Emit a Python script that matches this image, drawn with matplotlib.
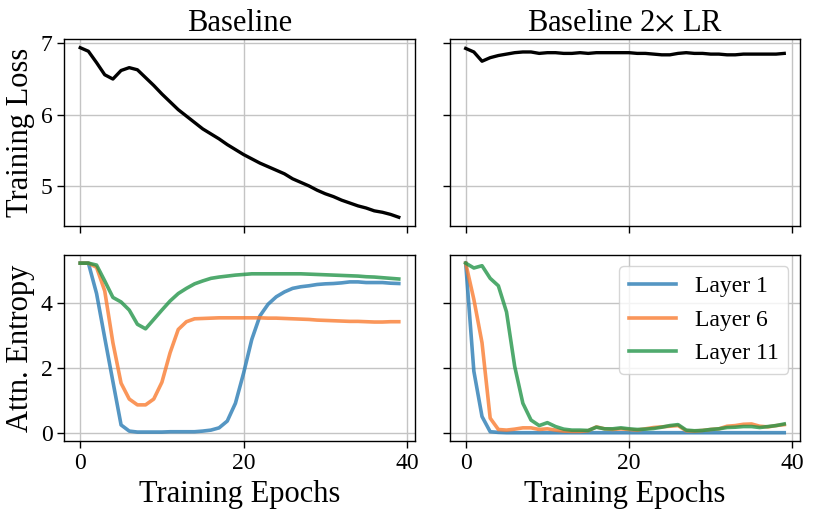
import numpy as np
import matplotlib
matplotlib.use("Agg")
import matplotlib.pyplot as plt

plt.rcParams['font.family'] = ['Liberation Serif', 'DejaVu Serif']
plt.rcParams['mathtext.fontset'] = 'stix'

epochs = list(range(40))

loss_baseline = [6.94, 6.89, 6.73, 6.56, 6.50, 6.62, 6.66, 6.63, 6.52, 6.41,
                 6.29, 6.18, 6.07, 5.98, 5.89, 5.80, 5.73, 5.66, 5.58, 5.51,
                 5.44, 5.38, 5.32, 5.27, 5.22, 5.17, 5.10, 5.05, 5.00, 4.94,
                 4.89, 4.85, 4.80, 4.76, 4.72, 4.69, 4.65, 4.63, 4.60, 4.56]

loss_2xlr = [6.93, 6.88, 6.75, 6.80, 6.83, 6.85, 6.87, 6.88, 6.88, 6.86,
             6.87, 6.87, 6.86, 6.86, 6.87, 6.86, 6.87, 6.87, 6.87, 6.87,
             6.87, 6.86, 6.86, 6.85, 6.84, 6.84, 6.86, 6.87, 6.86, 6.86,
             6.85, 6.85, 6.84, 6.84, 6.85, 6.85, 6.85, 6.85, 6.85, 6.86]

ent_base_l1 = [5.24, 5.24, 4.30, 2.93, 1.58, 0.24, 0.05, 0.02, 0.02, 0.02,
               0.02, 0.03, 0.03, 0.03, 0.03, 0.05, 0.08, 0.15, 0.36, 0.91,
               1.84, 2.88, 3.61, 3.97, 4.20, 4.35, 4.46, 4.51, 4.54, 4.58,
               4.60, 4.61, 4.63, 4.66, 4.66, 4.64, 4.64, 4.64, 4.62, 4.61]
ent_base_l6 = [5.24, 5.24, 5.11, 4.38, 2.78, 1.53, 1.04, 0.86, 0.86, 1.04,
               1.56, 2.47, 3.19, 3.43, 3.52, 3.53, 3.54, 3.55, 3.55, 3.55,
               3.55, 3.55, 3.55, 3.54, 3.54, 3.53, 3.52, 3.51, 3.50, 3.48,
               3.47, 3.46, 3.45, 3.44, 3.44, 3.43, 3.42, 3.42, 3.43, 3.43]
ent_base_l11 = [5.24, 5.24, 5.18, 4.69, 4.18, 4.04, 3.79, 3.35, 3.21, 3.50,
                3.79, 4.07, 4.30, 4.46, 4.60, 4.69, 4.77, 4.81, 4.84, 4.87,
                4.89, 4.91, 4.91, 4.91, 4.91, 4.91, 4.91, 4.91, 4.90, 4.89,
                4.88, 4.87, 4.86, 4.85, 4.84, 4.82, 4.81, 4.79, 4.77, 4.75]

ent_2x_l1 = [5.24, 1.90, 0.50, 0.03, 0.01, 0.00, 0.00, 0.00, 0.00, 0.00,
             0.00, 0.00, 0.00, 0.00, 0.00, 0.00, 0.00, 0.00, 0.00, 0.00,
             0.00, 0.00, 0.00, 0.00, 0.00, 0.00, 0.00, 0.00, 0.00, 0.00,
             0.00, 0.00, 0.00, 0.00, 0.00, 0.00, 0.00, 0.00, 0.00, 0.00]
ent_2x_l6 = [5.24, 4.12, 2.78, 0.45, 0.10, 0.08, 0.11, 0.15, 0.15, 0.10,
             0.12, 0.08, 0.05, 0.04, 0.04, 0.06, 0.18, 0.12, 0.10, 0.12,
             0.10, 0.08, 0.12, 0.16, 0.18, 0.20, 0.22, 0.06, 0.05, 0.07,
             0.10, 0.12, 0.20, 0.22, 0.26, 0.27, 0.20, 0.18, 0.22, 0.25]
ent_2x_l11 = [5.24, 5.09, 5.16, 4.77, 4.54, 3.73, 2.05, 0.91, 0.39, 0.22,
              0.31, 0.19, 0.11, 0.08, 0.08, 0.07, 0.17, 0.12, 0.12, 0.15,
              0.12, 0.10, 0.11, 0.13, 0.17, 0.22, 0.25, 0.08, 0.06, 0.07,
              0.10, 0.12, 0.16, 0.17, 0.19, 0.19, 0.16, 0.19, 0.22, 0.27]

titles = ["Baseline", r"Baseline 2$\times$ LR"]
layer_names = ["Layer 1", "Layer 6", "Layer 11"]
colors = ["#2a7cb4", "#f97c31", "#24954a"]

fig, axes = plt.subplots(2, 2, figsize=(8.14, 5.16), dpi=100, sharex=True, sharey='row')
fig.subplots_adjust(left=0.079, right=0.983, top=0.924, bottom=0.145, wspace=0.1, hspace=0.155)

axes[0, 0].plot(epochs, loss_baseline, color='black', lw=2.4)
axes[0, 1].plot(epochs, loss_2xlr, color='black', lw=2.4)

for ax, series in [(axes[1, 0], [ent_base_l1, ent_base_l6, ent_base_l11]),
                   (axes[1, 1], [ent_2x_l1, ent_2x_l6, ent_2x_l11])]:
    for s, c, name in zip(series, colors, layer_names):
        ax.plot(epochs, s, color=c, lw=2.6, alpha=0.8, label=name)

axes[1, 1].legend(loc='upper right', fontsize=17, framealpha=0.8)

for j in range(2):
    axes[0, j].set_title(titles[j], fontsize=22)
    axes[1, j].set_xlabel("Training Epochs", fontsize=22)
axes[0, 0].set_ylabel("Training Loss", fontsize=22)
axes[1, 0].set_ylabel("Attn. Entropy", fontsize=22)

axes[0, 0].set_yticks([5, 6, 7])
axes[1, 0].set_yticks([0, 2, 4])
axes[1, 0].set_xticks([0, 20, 40])

for ax in axes.flat:
    ax.grid(True, color='#c4c4c4', lw=1.0)
    ax.tick_params(labelsize=17, length=5, width=1)
    for sp in ax.spines.values():
        sp.set_linewidth(1.0)

fig.savefig("out.png", dpi=100)
